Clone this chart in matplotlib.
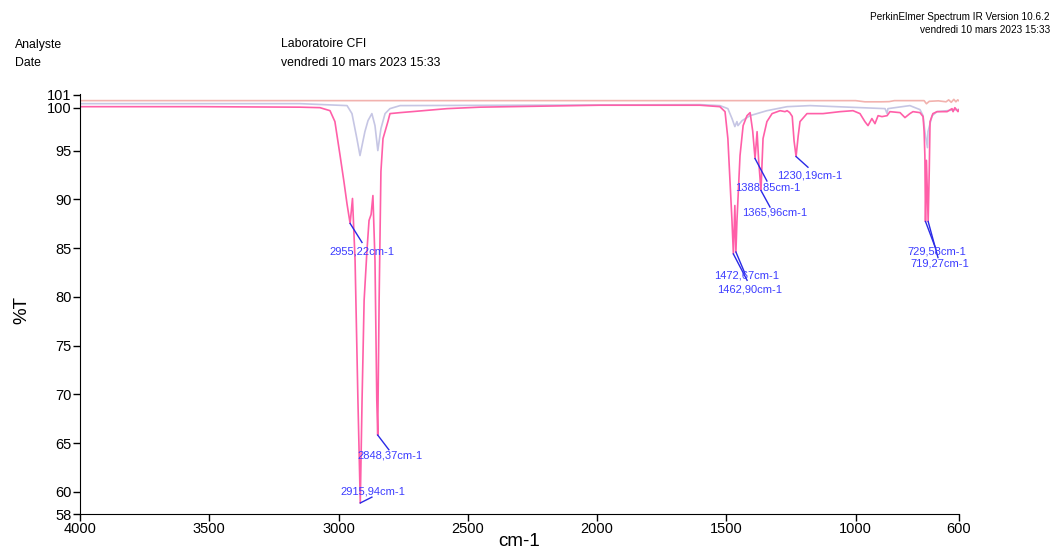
import matplotlib
matplotlib.use("Agg")
import matplotlib.pyplot as plt

plt.rcParams['font.family'] = ['Liberation Sans', 'DejaVu Sans']

# main sample spectrum (pink)
wn_sample = [4000, 3536, 3149, 3072, 3033, 3014, 2994, 2979, 2967, 2955.2, 2946, 2936, 2925,
             2915.9, 2909, 2901, 2890, 2882, 2874, 2867, 2859, 2852, 2848.4, 2843, 2836, 2828,
             2809, 2801, 2762, 2712, 2580, 2453, 1989, 1602, 1525, 1505, 1494, 1478, 1472.7,
             1467, 1462.9, 1459, 1447, 1435, 1420, 1408, 1398, 1388.9, 1381, 1375, 1366,
             1358, 1343, 1323, 1292, 1273, 1265, 1255, 1245, 1238, 1230.2, 1222, 1215, 1188,
             1126, 1060, 1010, 983, 964, 952, 937, 925, 913, 898, 878, 867, 828, 809, 790,
             778, 751, 739, 735, 732, 729.6, 726, 719.3, 715, 712, 701, 685, 646, 627, 623,
             616, 604, 600]
t_sample = [99.50, 99.50, 99.45, 99.40, 99.09, 97.97, 94.49, 91.80, 89.50, 87.53, 90.09, 83.74,
            69.41, 58.87, 69.41, 79.65, 84.77, 87.84, 88.45, 90.39, 83.74, 69.41, 65.83, 79.65,
            92.85, 96.23, 97.97, 98.79, 98.89, 99.00, 99.30, 99.45, 99.65, 99.65, 99.50, 98.99,
            96.23, 87.73, 84.40, 89.37, 84.60, 87.73, 94.49, 97.56, 98.58, 98.89, 97.00, 94.18,
            96.94, 94.00, 90.91, 96.23, 97.97, 98.79, 99.09, 98.99, 99.09, 98.90, 98.50, 96.00,
            94.39, 96.50, 97.97, 98.79, 98.79, 98.99, 99.09, 98.79, 97.97, 97.56, 98.28, 97.76,
            98.58, 98.48, 98.58, 98.99, 98.89, 98.38, 98.79, 98.99, 98.89, 98.48, 97.00, 94.49,
            87.73, 94.00, 87.73, 93.00, 97.97, 98.79, 98.99, 98.99, 99.30, 98.99, 99.40, 98.99,
            99.20]

# second spectrum (lavender)
wn_ref = [4000, 3149, 2967, 2948, 2929, 2917, 2898, 2886, 2871, 2859, 2848, 2836, 2820, 2801,
          2762, 1602, 1525, 1494, 1478, 1467, 1459, 1455, 1439, 1408, 1343, 1265, 1176, 886,
          878, 875, 790, 751, 739, 732, 722, 720, 704, 685, 646, 608, 600]
t_ref = [99.81, 99.81, 99.61, 98.79, 96.23, 94.49, 96.94, 98.07, 98.79, 97.56, 95.00, 97.25,
         98.79, 99.30, 99.61, 99.71, 99.61, 99.30, 98.28, 97.46, 97.97, 97.56, 98.07, 98.58,
         99.09, 99.50, 99.61, 99.30, 98.79, 99.30, 99.61, 99.20, 98.58, 96.94, 95.30, 96.94,
         98.58, 98.99, 99.09, 99.20, 99.20]

# background (salmon)
wn_bg = [4000, 2000, 1000, 964, 900, 870, 850, 735, 726, 715, 680, 650, 640, 630, 620, 612, 605, 600]
t_bg = [100.12, 100.12, 100.12, 100.0, 100.0, 100.02, 100.12, 100.12, 99.8, 100.05, 100.1,
        100.0, 100.2, 99.95, 100.25, 100.0, 100.2, 100.1]

# labelled peaks
peak_labels = ['2955,22cm-1', '2915,94cm-1', '2848,37cm-1', '1472,67cm-1', '1462,90cm-1',
               '1388,85cm-1', '1365,96cm-1', '1230,19cm-1', '729,58cm-1', '719,27cm-1']
peak_wn = [2955.2, 2915.9, 2848.4, 1472.7, 1462.9, 1388.9, 1366, 1230.2, 729.6, 719.3]
peak_t = [87.53, 58.87, 65.83, 84.40, 84.60, 94.18, 90.91, 94.39, 87.73, 87.73]

xticks = [4000, 3500, 3000, 2500, 2000, 1500, 1000, 600]
yticks = [57.74, 60, 65, 70, 75, 80, 85, 90, 95, 99.4, 100.7]
ytick_labels = ['58', '60', '65', '70', '75', '80', '85', '90', '95', '100', '101']

fig = plt.figure(figsize=(10.53, 5.51), dpi=100)
ax = fig.add_axes([80/1053, 37/551, 879/1053, 420/551])

ax.plot(wn_bg, t_bg, color='#f2b2ae', lw=1.2)
ax.plot(wn_ref, t_ref, color='#c6c6e4', lw=1.2)
ax.plot(wn_sample, t_sample, color='#ff5fa8', lw=1.2)

# leader line end and text position (offsets in data units)
line_end = [(-46, -1.95), (-45, 0.6), (-43, -1.5), (-53, -2.7), (-35, -2.2),
            (-46, -2.3), (-35, -1.7), (-46, -1.1), (-37, -2.6), (-38, -3.7)]
text_pos = [(-46, -2.9), (-49, 1.2), (-47, -2.1), (-53, -2.2), (-51, -3.8),
            (-50, -3.0), (-54, -2.25), (-54, -1.9), (-45, -3.1), (-46, -4.3)]
for lab, w, t, le, tp in zip(peak_labels, peak_wn, peak_t, line_end, text_pos):
    ax.plot([w, w + le[0]], [t, t + le[1]], color='#2a2ae6', lw=1)
    ax.text(w + tp[0], t + tp[1], lab, color='#3c3cff', fontsize=8,
            ha='center', va='center')

ax.set_xlim(4000, 600)
ax.set_ylim(57.74, 100.8)
ax.set_xticks(xticks)
ax.set_xticklabels([str(x) for x in xticks])
ax.set_yticks(yticks)
ax.set_yticklabels(ytick_labels)
ax.tick_params(direction='out', length=5, width=1, labelsize=10.5, colors='black', pad=1)
for s in ['top', 'right']:
    ax.spines[s].set_visible(False)

fig.text(22/1053, 1 - 310/551, '%T', fontsize=13.5, rotation=90, ha='center', va='center')
fig.text(519/1053, 1 - 541/551, 'cm-1', fontsize=13.5, ha='center', va='center')

fig.text(1050/1053, 1 - 17/551, 'PerkinElmer Spectrum IR Version 10.6.2', fontsize=7.2,
         ha='right', va='center')
fig.text(1050/1053, 1 - 30/551, 'vendredi 10 mars 2023 15:33', fontsize=7.2,
         ha='right', va='center')
fig.text(15/1053, 1 - 45/551, 'Analyste', fontsize=8.8, va='center')
fig.text(15/1053, 1 - 63/551, 'Date', fontsize=8.8, va='center')
fig.text(281/1053, 1 - 44/551, 'Laboratoire CFI', fontsize=8.8, va='center')
fig.text(281/1053, 1 - 63/551, 'vendredi 10 mars 2023 15:33', fontsize=8.8, va='center')

fig.savefig('out.png', dpi=100)
